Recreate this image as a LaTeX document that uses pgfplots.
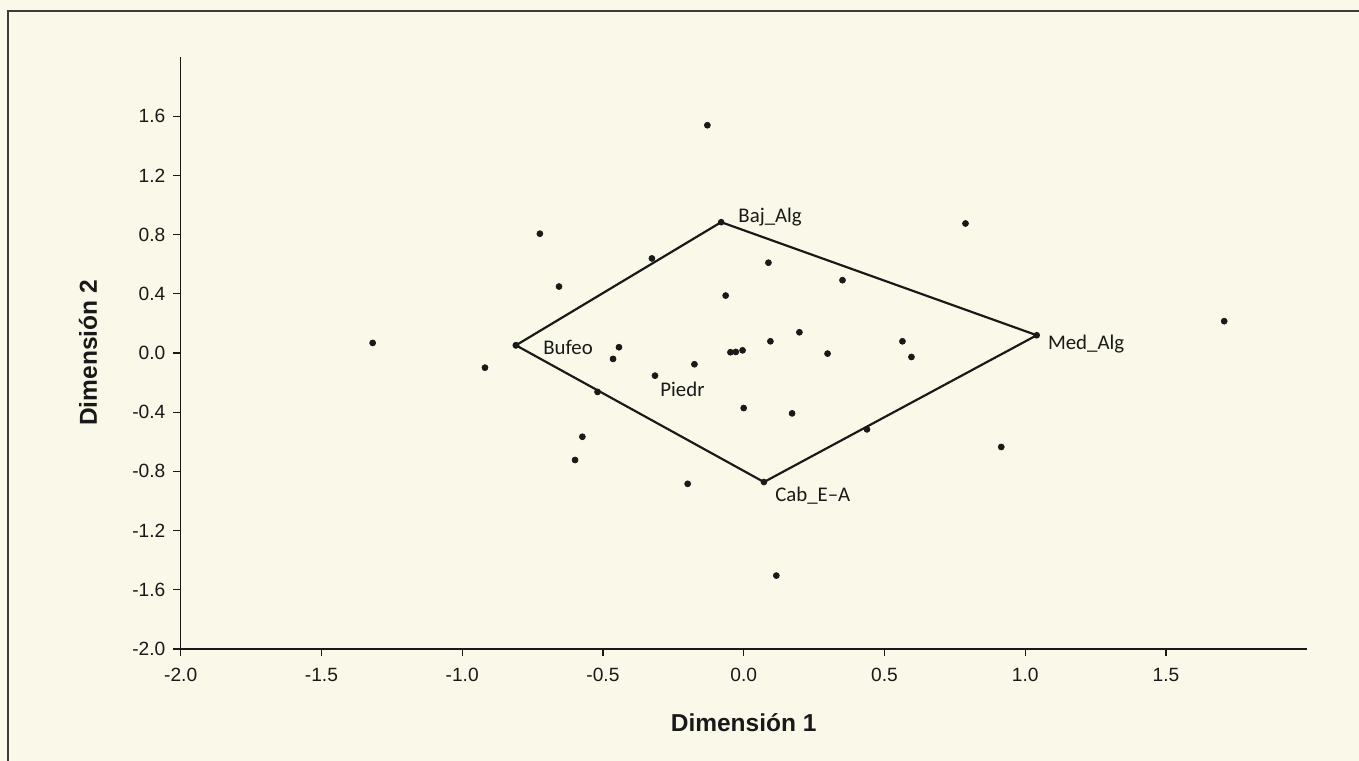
\documentclass[border=0pt]{standalone}
\usepackage{pgfplots}
\pgfplotsset{compat=1.18}
\usepackage{fontspec}
\setmainfont{Liberation Sans}
\newfontfamily\carlito{Carlito}
\definecolor{bgcream}{RGB}{250,248,232}
\definecolor{framegray}{RGB}{60,60,58}
\definecolor{ink}{RGB}{25,25,25}
\begin{document}
\begin{tikzpicture}[x=1pt,y=1pt]
\useasboundingbox (0,0) rectangle (815.4,456.6);
\fill[bgcream] (0,0) rectangle (815.4,456.6);
\draw[line width=1pt, framegray] (4.8,0) -- (4.8,450) -- (815.4,450);
\begin{axis}[
  at={(108.4pt,67.2pt)}, anchor=south west,
  scale only axis, width=675.6pt, height=355.2pt,
  xmin=-2, xmax=2, ymin=-2, ymax=2,
  axis x line=bottom, axis y line=left,
  axis line style={-, line width=0.9pt, ink},
  xtick={-2,-1.5,-1,-0.5,0,0.5,1,1.5},
  ytick={-2,-1.6,-1.2,-0.8,-0.4,0,0.4,0.8,1.2,1.6},
  tick align=outside, major tick length=4.5pt,
  tick style={line width=0.8pt, ink},
  /pgf/number format/assume math mode=true,
  /pgf/number format/.cd, fixed, fixed zerofill, precision=1, /pgfplots/.cd,
  ticklabel style={font=\fontsize{11.5}{13}\selectfont, text=ink},
  xticklabel style={yshift=-3.4pt},
  yticklabel style={xshift=-1.2pt},
  xlabel={Dimensión 1}, ylabel={Dimensión 2},
  label style={font=\fontsize{14.7}{17}\selectfont\bfseries, text=ink},
  x label style={at={(axis description cs:0.5,-0.125)}, anchor=center},
  y label style={at={(axis description cs:-0.0823,0.5)}, anchor=center},
  clip=false,
]
\addplot[line width=1.3pt, ink, mark=*, mark size=1.3pt] coordinates {
(-0.809,0.052) (-0.080,0.884) (1.041,0.120) (0.072,-0.872) (-0.809,0.052)
};
\addplot[only marks, mark=*, mark size=1.8pt, ink] coordinates {
(-1.318,0.068) (-0.919,-0.099) (-0.724,0.806) (-0.656,0.449) (-0.326,0.639)
(-0.443,0.039) (-0.464,-0.040) (-0.175,-0.076) (-0.315,-0.153) (-0.064,0.388)
(0.088,0.610) (0.095,0.079) (-0.047,0.005) (-0.028,0.007) (-0.004,0.018)
(-0.519,-0.263) (0.351,0.492) (0.198,0.140) (0.298,-0.004) (0.564,0.079)
(0.596,-0.027) (0.000,-0.372) (0.172,-0.408) (0.438,-0.516) (0.915,-0.635)
(0.788,0.875) (1.707,0.215) (-0.573,-0.566) (-0.599,-0.723) (-0.199,-0.884)
(0.116,-1.504) (-0.129,1.539)
};
\node[anchor=west, inner sep=0pt, font=\carlito\fontsize{12.5}{14}\selectfont, text=ink] at (axis cs:-0.080,0.884) [xshift=10.2pt, yshift=3pt] {Baj\_Alg};
\node[anchor=west, inner sep=0pt, font=\carlito\fontsize{12.5}{14}\selectfont, text=ink] at (axis cs:1.041,0.120) [xshift=6.6pt, yshift=-5.5pt] {Med\_Alg};
\node[anchor=west, inner sep=0pt, font=\carlito\fontsize{12.5}{14}\selectfont, text=ink] at (axis cs:-0.809,0.052) [xshift=16.2pt, yshift=-1.2pt] {Bufeo};
\node[anchor=west, inner sep=0pt, font=\carlito\fontsize{12.5}{14}\selectfont, text=ink] at (axis cs:-0.297,-0.243) {Piedr};
\node[anchor=west, inner sep=0pt, font=\carlito\fontsize{12.5}{14}\selectfont, text=ink] at (axis cs:0.072,-0.872) [xshift=6.6pt, yshift=-8.4pt] {Cab\_E–A};
\end{axis}
\end{tikzpicture}
\end{document}
